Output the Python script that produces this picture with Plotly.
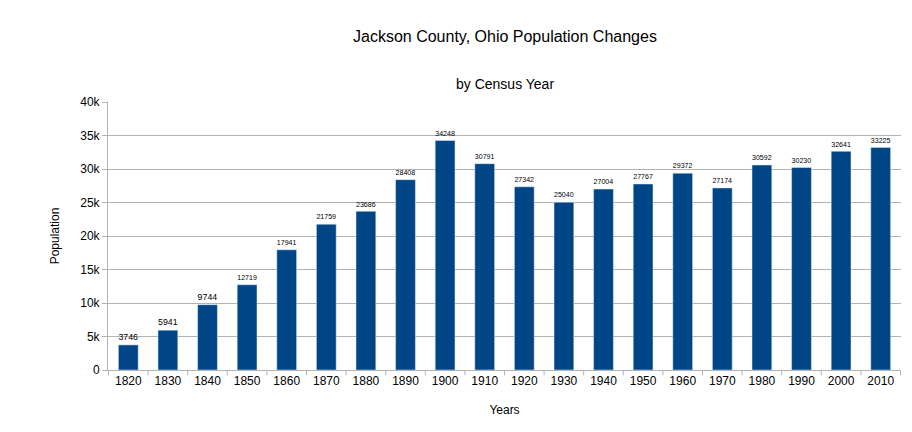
import plotly.graph_objects as go

years = ["1820","1830","1840","1850","1860","1870","1880","1890","1900","1910",
         "1920","1930","1940","1950","1960","1970","1980","1990","2000","2010"]
population = [3746,5941,9744,12719,17941,21759,23686,28408,34248,30791,
              27342,25040,27004,27767,29372,27174,30592,30230,32641,33225]

fig = go.Figure(go.Bar(
    x=years, y=population, marker_color="#004586", width=0.5,
    text=[str(v) for v in population], textposition="outside",
    textfont=dict(size=12, color="black"), cliponaxis=False))

fig.update_layout(
    width=912, height=432, margin=dict(l=100, r=19, t=94, b=70),
    plot_bgcolor="white", paper_bgcolor="white",
    font=dict(family="Liberation Sans", size=12, color="black"),
    showlegend=False, bargap=0.5,
    annotations=[
        dict(text="Jackson County, Ohio Population Changes", x=0.5, y=28, xref="paper", yref="paper",
             showarrow=False, font=dict(size=16)),
        dict(text="by Census Year", xref="paper", yref="paper", x=0.5, y=1.0, yshift=18,
             showarrow=False, font=dict(size=14), yanchor="middle"),
    ],
)
fig.layout.annotations[0].update(y=1.0, yshift=66, yanchor="middle")
fig.update_xaxes(title=dict(text="Years", font=dict(size=12), standoff=18),
                 showline=True, linecolor="#b3b3b3", ticks="outside", ticklen=0,
                 showgrid=False)
fig.update_yaxes(title=dict(text="Population", font=dict(size=12), standoff=18),
                 range=[0, 40000], dtick=5000, showgrid=True, gridcolor="#b3b3b3",
                 showline=True, linecolor="#b3b3b3", ticks="outside", tickcolor="#b3b3b3",
                 ticklen=5, zeroline=False)
# category separator ticks on x axis
for i in range(len(years) + 1):
    fig.add_shape(type="line", xref="x", yref="paper", x0=i - 0.5, x1=i - 0.5,
                  y0=0, y1=-0.02, line=dict(color="#b3b3b3", width=1))
fig.write_html("out.html")
